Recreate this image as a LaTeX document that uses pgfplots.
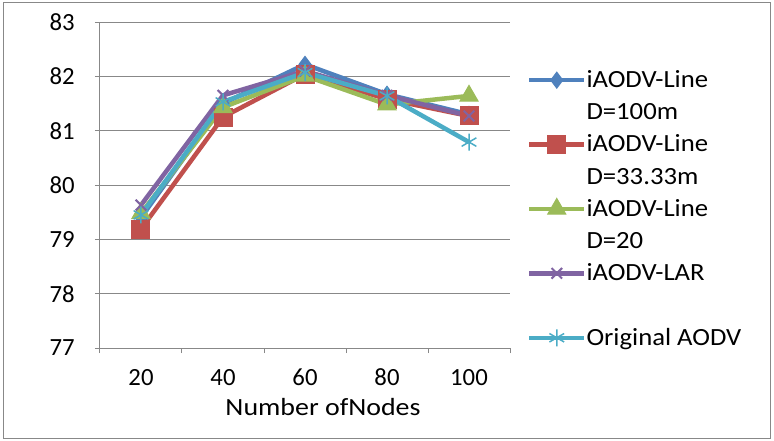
\documentclass[border=0pt]{standalone}
\usepackage{fontspec}
\setmainfont{Carlito}
\newfontfamily\widefont{Carlito}[FakeStretch=1.08]
\newfontfamily\widerfont{Carlito}[FakeStretch=1.13]
\usepackage{pgfplots}
\pgfplotsset{compat=1.18}

\definecolor{xlblue}{HTML}{4F81BD}
\definecolor{xlred}{HTML}{C0504D}
\definecolor{xlgreen}{HTML}{9BBB59}
\definecolor{xlpurple}{HTML}{8064A2}
\definecolor{xlcyan}{HTML}{4BACC6}
\definecolor{xlgray}{HTML}{888888}

\begin{document}
\begin{tikzpicture}[font=\fontsize{24.8}{29}\selectfont]
\begin{axis}[
  name=ax,
  scale only axis, width=410bp, height=326bp,
  xmin=0, xmax=5, ymin=77, ymax=83,
  axis lines=left,
  axis line style={-, xlgray, line width=1bp},
  xtick={0.5,1.5,2.5,3.5,4.5},
  xticklabels={20,40,60,80,100},
  minor xtick={0,1,2,3,4,5},
  ytick={77,78,79,80,81,82,83},
  tick align=outside,
  major x tick style={draw=none},
  minor x tick style={xlgray, line width=1bp},
  major y tick style={xlgray, line width=1bp},
  major tick length=5bp, minor tick length=5bp,
  ymajorgrids,
  major grid style={xlgray, line width=1bp},
  /pgf/number format/assume math mode=true,
  yticklabel style={anchor=east, inner sep=0pt, xshift=-18bp},
  xticklabel style={anchor=base, inner sep=0pt, yshift=-32bp},
  xlabel={\widerfont Number ofNodes},
  xlabel style={at={(axis description cs:0.5,0)}, anchor=base, inner sep=0pt, yshift=-67bp, xshift=18bp},
  line width=4.5bp,
  legend image code/.code={\draw[mark repeat=2,mark phase=2] plot coordinates {(0bp,0bp) (27.5bp,0bp) (55bp,0bp)};},
  legend cell align=left,
  legend style={at={(rel axis cs:1.0415,0.871)}, anchor=north west, draw=none, fill=none,
    inner sep=0pt, outer sep=0pt, row sep=0pt, column sep=0bp,
    font=\widefont\fontsize{24.8}{29}\selectfont,
    nodes={inner sep=0pt, text height=23.4bp, text depth=8.8bp}},
]
\addplot[color=xlblue, mark=diamond*, mark size=8bp, mark options={solid, line width=1bp}]
  coordinates {(0.5,79.40) (1.5,81.50) (2.5,82.22) (3.5,81.67) (4.5,81.30)};
\addlegendentry{iAODV-Line}
\addlegendimage{empty legend}
\addlegendentry{D=100m}
\addplot[color=xlred, mark=square*, mark size=9bp, mark options={solid, line width=1bp}]
  coordinates {(0.5,79.19) (1.5,81.25) (2.5,82.04) (3.5,81.58) (4.5,81.27)};
\addlegendentry{iAODV-Line}
\addlegendimage{empty legend}
\addlegendentry{D=33.33m}
\addplot[color=xlgreen, mark=triangle*, mark size=10.5bp, mark options={solid, line width=1bp}]
  coordinates {(0.5,79.48) (1.5,81.43) (2.5,82.01) (3.5,81.48) (4.5,81.64)};
\addlegendentry{iAODV-Line}
\addlegendimage{empty legend}
\addlegendentry{D=20}
\addplot[color=xlpurple, mark=x, mark size=7.5bp, mark options={solid, line width=2bp}]
  coordinates {(0.5,79.63) (1.5,81.65) (2.5,82.10) (3.5,81.65) (4.5,81.27)};
\addlegendentry{iAODV-LAR}
\addlegendimage{empty legend}
\addlegendentry{\phantom{X}}
\addplot[color=xlcyan, mark=asterisk, mark size=8.5bp, mark options={solid, line width=1.5bp}]
  coordinates {(0.5,79.45) (1.5,81.53) (2.5,82.07) (3.5,81.64) (4.5,80.79)};
\addlegendentry{Original AODV}
\end{axis}
\draw[xlgray, line width=1bp] ([shift={(-96bp,-90bp)}]ax.south west) rectangle ([shift={(670bp,345bp)}]ax.south west);
\pgfresetboundingbox
\path[use as bounding box] ([shift={(-100bp,-93bp)}]ax.south west) rectangle ([shift={(674bp,348bp)}]ax.south west);
\end{tikzpicture}
\end{document}
